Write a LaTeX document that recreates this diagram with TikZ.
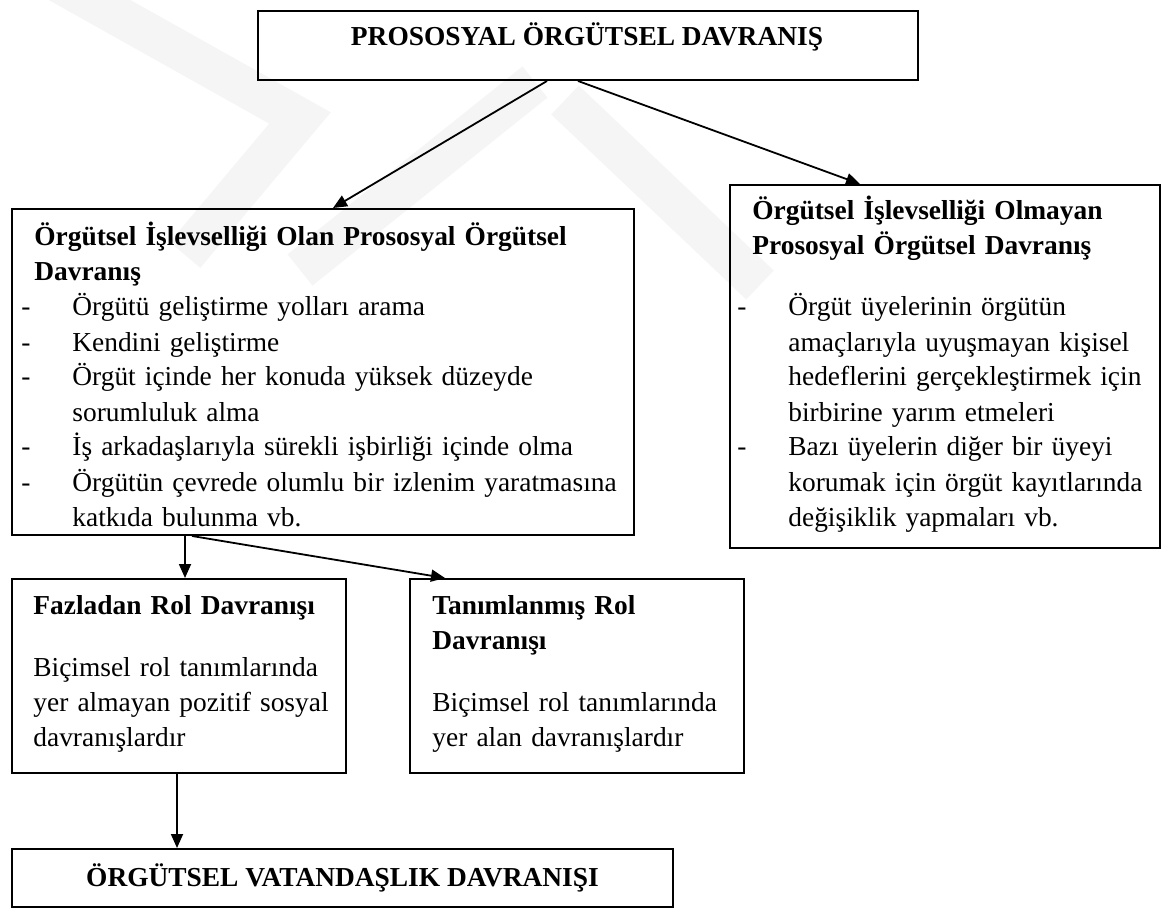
\documentclass[tikz,border=0pt]{standalone}
\usepackage{fontspec}
\setmainfont{Liberation Serif}
\usetikzlibrary{arrows.meta}
\tikzset{%
  kutu/.style     = {shape=rectangle, draw, line width=1pt, inner sep=0pt,%
                     anchor=north west},%
  yazi/.style     = {font=\fontsize{13.7}{17.5}\selectfont, inner sep=0pt,%
                     anchor=base west, align=left, text width=320pt},%
  baslik/.style   = {yazi, font=\fontsize{13.7}{17.5}\selectfont\bfseries},%
  ok/.style       = {line width=0.9pt, -{Triangle[length=7pt,width=6pt]}},%
  filigran/.style = {line width=20pt, draw=black!4, line join=miter}%
}
\newcommand{\tire}{\makebox[25.5pt][l]{-}}
\newcommand{\girinti}{\hspace*{25.5pt}}

\begin{document}
\begin{tikzpicture}[x=0.5pt,y=-0.5pt]
  \useasboundingbox (0,0) rectangle (1170,908);
  \draw[filigran] (45,-25) -- (300,118) -- (185,255);
  \draw[filigran] (535,82) -- (300,270);
  \draw[filigran] (565,100) -- (760,285);
  \node[kutu, minimum width=330pt, minimum height=34.5pt] (prososyal) at (257,10) {};
  \node[baslik, anchor=base, text width=] (prososyalyazi) at (587,46) {PROSOSYAL ÖRGÜTSEL DAVRANIŞ};
  \node[kutu, minimum width=311pt, minimum height=163pt] (olan) at (11,208) {};
  \node[baslik] (olanbaslik) at (34,246) {Örgütsel İşlevselliği Olan Prososyal Örgütsel\\Davranış};
  \node[yazi] (olanmetin) at (21,316) {\tire Örgütü geliştirme yolları arama\\
    \tire Kendini geliştirme\\
    \tire Örgüt içinde her konuda yüksek düzeyde\\
    \girinti sorumluluk alma\\
    \tire İş arkadaşlarıyla sürekli işbirliği içinde olma\\
    \tire Örgütün çevrede olumlu bir izlenim yaratmasına\\
    \girinti katkıda bulunma vb.};
  \node[kutu, minimum width=215pt, minimum height=181.5pt] (olmayan) at (729,184) {};
  \node[baslik] (olmayanbaslik) at (752,220) {Örgütsel İşlevselliği Olmayan\\Prososyal Örgütsel Davranış};
  \node[yazi] (olmayanmetin) at (737,316) {\tire Örgüt üyelerinin örgütün\\
    \girinti amaçlarıyla uyuşmayan kişisel\\
    \girinti hedeflerini gerçekleştirmek için\\
    \girinti birbirine yarım etmeleri\\
    \tire Bazı üyelerin diğer bir üyeyi\\
    \girinti korumak için örgüt kayıtlarında\\
    \girinti değişiklik yapmaları vb.};
  \node[kutu, minimum width=167pt, minimum height=97pt] (fazladan) at (11,578) {};
  \node[baslik] (fazladanbaslik) at (33,614) {Fazladan Rol Davranışı};
  \node[yazi] (fazladanmetin) at (33,676) {Biçimsel rol tanımlarında\\yer almayan pozitif sosyal\\davranışlardır};
  \node[kutu, minimum width=167pt, minimum height=97pt] (tanimli) at (409,578) {};
  \node[baslik] (tanimlibaslik) at (432,614) {Tanımlanmış Rol\\Davranışı};
  \node[yazi] (tanimlimetin) at (432,711) {Biçimsel rol tanımlarında\\yer alan davranışlardır};
  \node[kutu, minimum width=330.5pt, minimum height=29pt,
        font=\fontsize{13.7}{17.5}\selectfont\bfseries] (vatandaslik) at (11,848) {ÖRGÜTSEL VATANDAŞLIK DAVRANIŞI};
  \draw[ok] ([xshift=145pt]prososyal.south west) -- ([xshift=161pt]olan.north west);
  \draw[ok] ([xshift=160.5pt]prososyal.south west) -- ([xshift=65.5pt]olmayan.north west);
  \draw[ok] ([xshift=87pt]olan.south west) -- ([xshift=87pt]fazladan.north west);
  \draw[ok] ([xshift=90.5pt]olan.south west) -- ([xshift=18pt]tanimli.north west);
  \draw[ok] ([xshift=83pt]fazladan.south west) -- ([xshift=83pt]vatandaslik.north west);
\end{tikzpicture}
\end{document}
